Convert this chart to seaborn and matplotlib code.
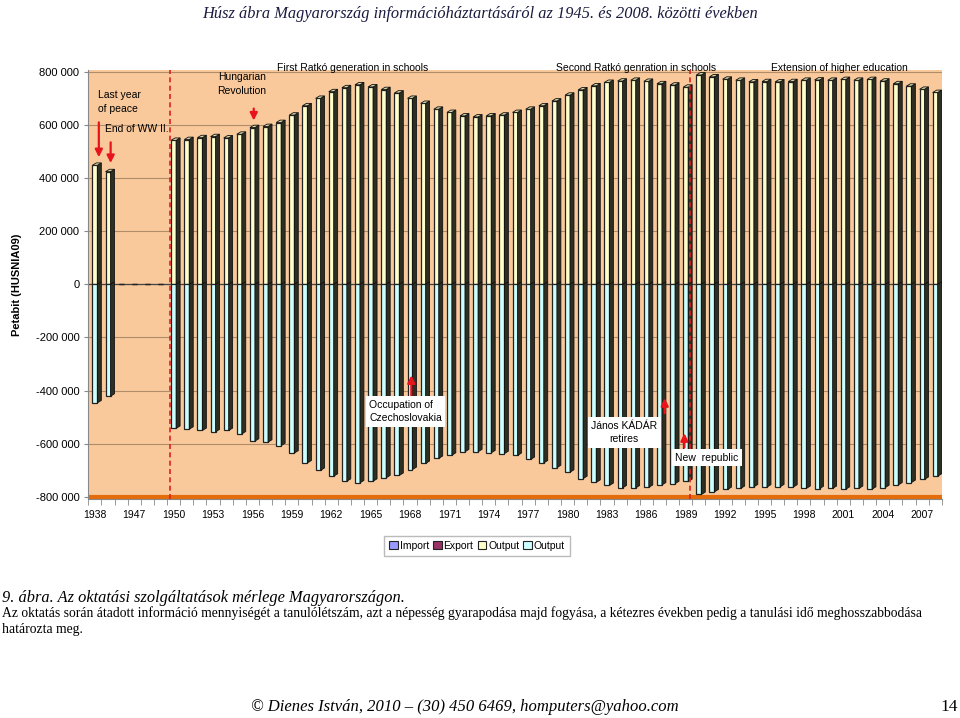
import numpy as np
import pandas as pd
import seaborn as sns
import matplotlib.pyplot as plt
from matplotlib.patches import Polygon, Patch

# categories: 1938, then 1945..2008 (1946-1949 have no data)
years = ['1938', '1945', '1946', '1947', '1948', '1949',
         '1950', '1951', '1952', '1953', '1954', '1955', '1956', '1957', '1958', '1959',
         '1960', '1961', '1962', '1963', '1964', '1965', '1966', '1967', '1968', '1969',
         '1970', '1971', '1972', '1973', '1974', '1975', '1976', '1977', '1978', '1979',
         '1980', '1981', '1982', '1983', '1984', '1985', '1986', '1987', '1988', '1989',
         '1990', '1991', '1992', '1993', '1994', '1995', '1996', '1997', '1998', '1999',
         '2000', '2001', '2002', '2003', '2004', '2005', '2006', '2007', '2008']

# Output (upwards), thousands
output_up = [448, 424, 0, 0, 0, 0,
             542, 545, 552, 556, 551, 565, 590, 594, 609, 637,
             672, 700, 725, 740, 751, 743, 733, 720, 700, 681,
             659, 647, 634, 630, 634, 637, 647, 659, 672, 690,
             712, 732, 747, 760, 765, 768, 764, 755, 750, 742,
             788, 781, 772, 768, 762, 763, 762, 763, 768, 769,
             768, 771, 768, 771, 765, 755, 746, 734, 722]

# Output (downwards), thousands
output_down = [-446, -421, 0, 0, 0, 0,
               -542, -545, -550, -555, -550, -563, -590, -594, -607, -635,
               -672, -700, -722, -741, -747, -741, -728, -719, -697, -674,
               -655, -643, -630, -630, -634, -637, -644, -659, -672, -690,
               -707, -731, -745, -757, -766, -766, -764, -755, -750, -742,
               -791, -781, -772, -768, -762, -763, -762, -763, -768, -769,
               -768, -771, -768, -771, -765, -755, -746, -734, -722]

legend_labels = ['Import', 'Export', 'Output', 'Output']
legend_colors = ['#9999FF', '#993366', '#FFFFCC', '#CCFFFF']

df = pd.DataFrame({'year': years,
                   'up': np.array(output_up) * 1000,
                   'down': np.array(output_down) * 1000})

plt.rcParams['font.family'] = ['Liberation Sans', 'DejaVu Sans']

fig = plt.figure(figsize=(9.6, 7.18), dpi=100)
ax = fig.add_axes([0.092, 0.305, 0.889, 0.598])
ax.set_facecolor('#F9C99C')

sns.barplot(data=df, x='year', y='up', order=years, color='#FFFFCC', saturation=1,
            width=0.38, edgecolor='#222222', linewidth=0.9, errorbar=None, ax=ax, zorder=3)
sns.barplot(data=df, x='year', y='down', order=years, color='#CCFFFF', saturation=1,
            width=0.38, edgecolor='#222222', linewidth=0.9, errorbar=None, ax=ax, zorder=3)

# fake 3D: dark side and cap for each bar
d, dy = 0.3, 9000
for p in list(ax.patches):
    h = p.get_height()
    if h == 0:
        continue
    x0 = p.get_x()
    x1 = x0 + p.get_width()
    side = Polygon([(x1, 0), (x1 + d, dy), (x1 + d, h + dy), (x1, h)],
                   closed=True, facecolor='#2E2E22', edgecolor='#111111', lw=0.6, zorder=3)
    ax.add_patch(side)
    if h > 0:
        cap = Polygon([(x0, h), (x0 + d, h + dy), (x1 + d, h + dy), (x1, h)],
                      closed=True, facecolor='#D8D8A8', edgecolor='#111111', lw=0.6, zorder=3)
        ax.add_patch(cap)

ax.set_ylim(-808000, 808000)
ax.set_xlim(-0.5, len(years) - 0.5)
yt = np.arange(-800000, 800001, 200000)
ax.set_yticks(yt)
ax.set_yticklabels([f'{v:,}'.replace(',', ' ') for v in yt], fontsize=8)
ax.grid(axis='y', color='#B08C68', lw=0.8, zorder=1)
ax.set_axisbelow(True)
ax.axhline(0, color='#444444', lw=0.9, zorder=2)
ax.axhline(-800000, color='#E46C0A', lw=3, zorder=2)

ax.set_xticks(range(0, len(years), 3))
ax.set_xticklabels(years[::3], fontsize=7.5)
ax.set_xticks(np.arange(-0.5, len(years), 1), minor=True)
ax.tick_params(axis='x', which='major', length=0, pad=8)
ax.tick_params(axis='x', which='minor', length=4, color='#888888')
ax.tick_params(axis='y', length=3, color='#888888')
ax.set_xlabel('')
ax.set_ylabel('Petabit (HUSNIA09)', fontsize=8, fontweight='bold', labelpad=10)
for s in ['top', 'right']:
    ax.spines[s].set_visible(False)
ax.spines['left'].set_color('#888888')
ax.spines['bottom'].set_color('#888888')

# era separators
for xv in [5.7, 45.3]:
    ax.axvline(xv, color='#E02020', lw=1.2, ls=(0, (3, 2)), zorder=4)

red = '#E8141C'
arr = dict(arrowstyle='-|>', color=red, lw=1.6, mutation_scale=11)
ax.text(0.24, 730000, 'Last year\nof peace', fontsize=7.5, va='top', ha='left', linespacing=1.45)
ax.annotate('', xy=(0.3, 468000), xytext=(0.3, 620000), arrowprops=arr, zorder=5)
ax.text(0.8, 584000, 'End of WW II.', fontsize=7.5, va='center', ha='left')
ax.annotate('', xy=(1.2, 446000), xytext=(1.2, 545000), arrowprops=arr, zorder=5)
ax.text(11.2, 798000, 'Hungarian\nRevolution', fontsize=7.5, va='top', ha='center', linespacing=1.45)
ax.annotate('', xy=(12.1, 606000), xytext=(12.1, 672000), arrowprops=arr, zorder=5)

ax.text(19.6, 813000, 'First Ratkó generation in schools', fontsize=7.5, ha='center', va='center')
ax.text(41.2, 813000, 'Second Ratkó genration in schools', fontsize=7.5, ha='center', va='center')
ax.text(56.7, 813000, 'Extension of higher education', fontsize=7.5, ha='center', va='center')

box = dict(facecolor='white', edgecolor='none', pad=2.5)
ax.text(20.9, -478000, 'Occupation of\nCzechoslovakia', fontsize=7.5, ha='left', va='center',
        linespacing=1.45, bbox=box, zorder=6)
ax.annotate('', xy=(24.1, -332000), xytext=(24.1, -440000), arrowprops=arr, zorder=5)
ax.text(40.3, -557000, 'János KÁDÁR\nretires', fontsize=7.5, ha='center', va='center',
        linespacing=1.45, bbox=box, zorder=6)
ax.annotate('', xy=(43.4, -418000), xytext=(43.4, -495000), arrowprops=arr, zorder=5)
ax.text(44.2, -652000, 'New  republic', fontsize=7.5, ha='left', va='center', bbox=box, zorder=6)
ax.annotate('', xy=(44.9, -550000), xytext=(44.9, -625000), arrowprops=arr, zorder=5)

handles = [Patch(facecolor=c, edgecolor='#222222', lw=0.8) for c in legend_colors]
fig.legend(handles, legend_labels, loc='center', bbox_to_anchor=(0.497, 1 - 546 / 718),
           ncol=4, fontsize=7.5, frameon=True, fancybox=False, edgecolor='#AAAAAA',
           handlelength=0.8, handleheight=0.8, handletextpad=0.2, columnspacing=0.4,
           borderpad=0.5)

serif = ['Liberation Serif', 'DejaVu Serif']
fig.text(0.5, 1 - 14 / 718, 'Húsz ábra Magyarország információháztartásáról az 1945. és 2008. közötti években',
         family=serif, style='italic', fontsize=11.8, ha='center', va='center', color='#1A1A40')
fig.text(0.002, 1 - 598 / 718, '9. ábra. Az oktatási szolgáltatások mérlege Magyarországon.',
         family=serif, style='italic', fontsize=11.8, ha='left', va='center')
fig.text(0.002, 1 - 613 / 718, 'Az oktatás során átadott információ mennyiségét a tanulólétszám, azt a népesség '
         'gyarapodása majd fogyása, a kétezres években pedig a tanulási idő meghosszabbodása',
         family=serif, fontsize=9.8, ha='left', va='center')
fig.text(0.002, 1 - 629 / 718, 'határozta meg.', family=serif, fontsize=9.8, ha='left', va='center')
fig.text(465 / 960, 1 - 707 / 718, '© Dienes István, 2010 – (30) 450 6469, homputers@yahoo.com',
         family=serif, style='italic', fontsize=12, ha='center', va='center')
fig.text(0.998, 1 - 707 / 718, '14', family=serif, fontsize=12.5, ha='right', va='center')

fig.savefig('out.png', dpi=100)
